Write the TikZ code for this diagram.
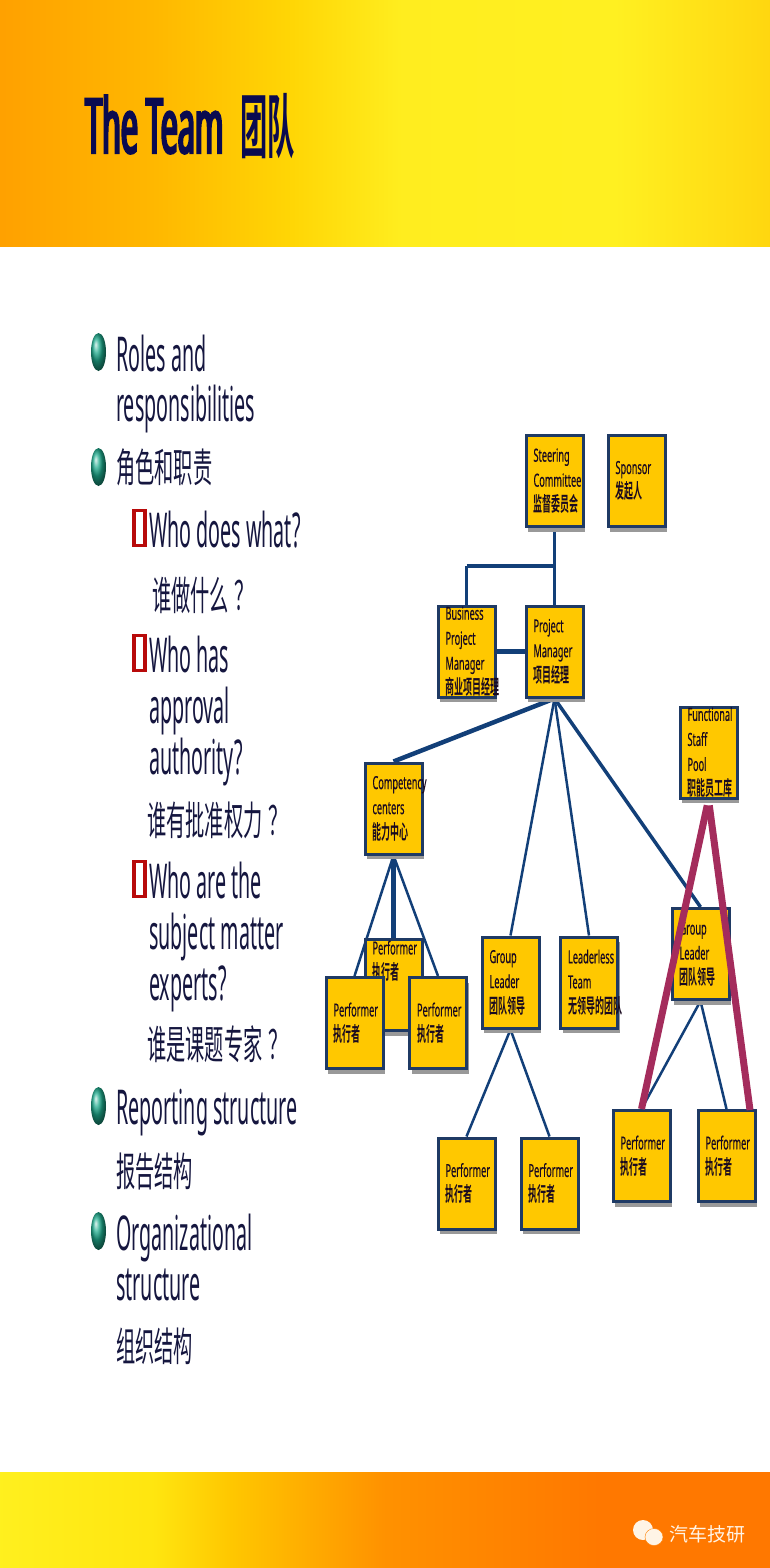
\documentclass[tikz,border=0pt]{standalone}
\usepackage{fontspec}
\usetikzlibrary{shapes.geometric,shadows,backgrounds}
\setmainfont{Noto Sans}
\newfontfamily\bodylatin[FakeStretch=.41]{Noto Sans}
\newfontfamily\bodycjk[FakeStretch=.48]{Noto Sans CJK SC}
\newfontfamily\boxlatin[FakeStretch=.51,FakeBold=.3]{Noto Sans}
\newfontfamily\boxcjk[FakeStretch=.45]{Noto Sans CJK SC Bold}
\newfontfamily\titlefont[FakeStretch=.4,FakeBold=3]{Noto Sans}
\newfontfamily\titlecjk[FakeStretch=.39]{Noto Sans CJK SC Bold}
\newfontfamily\markfont{Noto Sans CJK SC}
\newcommand{\zh}[1]{{\boxcjk\fontsize{20}{25}\selectfont #1}}
\definecolor{boxfill}{HTML}{FFC800}
\definecolor{boxline}{HTML}{1F3A64}
\definecolor{linkblue}{HTML}{123F78}
\definecolor{poolred}{HTML}{A42C5C}
\definecolor{inktext}{HTML}{15163F}
\definecolor{titleink}{HTML}{0A0A50}
\definecolor{boxtext}{HTML}{1A0A20}
\definecolor{cream}{HTML}{FFF4E6}
\definecolor{ballgreen}{HTML}{1EAA8C}
\definecolor{squarered}{HTML}{B80A0A}
\pgfdeclarehorizontalshading{headerfade}{100bp}{
  rgb(0bp)=(1,.63,0);rgb(25bp)=(1,.63,0);rgb(35bp)=(1,.72,0);rgb(44bp)=(1,.84,.02);rgb(51bp)=(1,.93,.12);
  rgb(65bp)=(1,.94,.13);rgb(75bp)=(1,.84,.06);rgb(100bp)=(1,.84,.06)}
\pgfdeclarehorizontalshading{footerfade}{100bp}{
  rgb(0bp)=(1,.94,.12);rgb(25bp)=(1,.94,.12);rgb(35bp)=(1,.9,.06);rgb(40bp)=(1,.78,0);rgb(50bp)=(1,.57,0);
  rgb(64bp)=(1,.47,0);rgb(100bp)=(1,.47,0)}
\tikzset{
  x=1pt, y=-1pt,
  box/.style={rectangle, draw=boxline, line width=3pt, fill=boxfill,
    minimum width=57pt, minimum height=91pt, inner sep=0pt, text width=42pt, align=left,
    text=boxtext, font=\boxlatin\fontsize{18}{25}\selectfont,
    drop shadow={shadow xshift=2pt, shadow yshift=-5pt, fill=gray!80, opacity=1}},
  bodyline/.style={anchor=base west, inner sep=0pt, text=inktext, font=\bodylatin\fontsize{48}{50}\selectfont},
  cjkline/.style={anchor=base west, inner sep=0pt, text=inktext, font=\bodycjk\fontsize{40}{50}\selectfont},
  ballmark/.style={ellipse, ball color=ballgreen, minimum width=15pt, minimum height=38pt, inner sep=0pt},
  squaremark/.style={rectangle, draw=squarered, line width=3.5pt, fill=white, minimum width=11pt, minimum height=35pt, inner sep=0pt},
  thinlink/.style={draw=linkblue, line width=2.5pt},
  thicklink/.style={draw=linkblue, line width=4.5pt},
  poollink/.style={draw=poolred, line width=7pt, shorten <=6pt},
}
\begin{document}
\begin{tikzpicture}
  \useasboundingbox (0,0) rectangle (770,1568);
  % bands
  \shade[shading=headerfade] (0,0) rectangle (770,246);
  \shade[shading=footerfade] (0,1472) rectangle (770,1568);

  \node (title) [anchor=base west, inner sep=0pt, text=titleink, font=\titlefont\fontsize{76}{76}\selectfont] at (85,153) {The Team\kern17pt{\titlecjk\fontsize{70}{70}\selectfont 团队}};

  % bullet list
  \foreach \name/\y in {ballA/352, ballB/467, ballC/1106, ballD/1231}
    \node (\name) [ballmark] at (98.5,\y) {};
  \foreach \name/\y in {squareA/528, squareB/653, squareC/879}
    \node (\name) [squaremark] at (139.5,\y) {};
  \foreach \x/\y/\txt in {116/371/Roles and, 116/421/responsibilities, 149/547/Who does what?,
      149/672/Who has, 149/723/approval, 149/774/authority?, 149/898/Who are the,
      149/949/subject matter, 149/1000/experts?, 116/1124/Reporting structure,
      116/1250/Organizational, 116/1300/structure}
    \node [bodyline] at (\x,\y) {\txt};
  \foreach \x/\y/\txt in {116/482/角色和职责, 152/610/谁做什么\kern6pt？, 147/835/谁有批准权力\kern6pt？,
      147/1059/谁是课题专家\kern6pt？, 116/1186/报告结构, 116/1361/组织结构}
    \node [cjkline] at (\x,\y) {\txt};

  % boxes
  \node (steering) [box] at (554.5,481) {Steering\\Committee\\\zh{监督委员会}};
  \node (sponsor) [box, right of=steering, node distance=82pt] {Sponsor\\\zh{发起人}};
  \node (project) [box, below of=steering, node distance=170.5pt] {Project\\Manager\\\zh{项目经理}};
  \node (business) [box, left of=project, node distance=88pt] {Business\\Project\\Manager\\\zh{商业项目经理}};
  \node (functional) [box] at (708.5,752.5) {Functional\\Staff\\Pool\\\zh{职能员工库}};
  \node (competency) [box] at (393.5,808.5) {Competency\\centers\\\zh{能力中心}};
  \node (perfMid) [box] at (393.5,985) {Performer\\\zh{执行者}\\~\\~};
  \node (perfLeft) [box] at (354.5,1023) {Performer\\\zh{执行者}};
  \node (perfRight) [box, right of=perfLeft, node distance=83.5pt] {Performer\\\zh{执行者}};
  \node (groupA) [box] at (510.5,982.5) {Group\\Leader\\\zh{团队领导}};
  \node (leaderless) [box, right of=groupA, node distance=78.5pt] {Leaderless\\Team\\\zh{无领导的团队}};
  \node (groupB) [box] at (700.5,954) {Group\\Leader\\\zh{团队领导}};
  \node (perfC) [box] at (466.5,1183.5) {Performer\\\zh{执行者}};
  \node (perfD) [box, right of=perfC, node distance=83pt] {Performer\\\zh{执行者}};
  \node (perfE) [box] at (641.5,1156) {Performer\\\zh{执行者}};
  \node (perfF) [box, right of=perfE, node distance=85pt] {Performer\\\zh{执行者}};

  \coordinate (junction) at (554.5,566);
  \coordinate (poolEnd) at (750,1110);

  % links
  \begin{scope}[on background layer]
    \draw [thinlink] (steering) -- (project);
    \draw [thinlink] (business.north) -- (business.north |- junction);
    \draw [thicklink] (business.north |- junction) -- (junction);
    \draw [thicklink] (business) -- (project);
    \draw [thicklink] (project.south) -- (competency.north);
    \draw [thinlink] (project.south) -- (groupA.north);
    \draw [thinlink] (project.south) -- (leaderless.north);
    \draw [draw=linkblue, line width=3.5pt] (project.south) -- (groupB.north);
    \draw [thicklink] (competency.south) -- (perfMid.north);
    \draw [thinlink] (competency.south) -- (perfLeft.north);
    \draw [thinlink] (competency.south) -- (perfRight.north);
    \draw [thinlink] (groupA.south) -- (perfC.north);
    \draw [thinlink] (groupA.south) -- (perfD.north);
    \draw [thinlink] (groupB.south) -- (perfE.north);
    \draw [thinlink] (groupB.south) -- (perfF.north);
  \end{scope}
  \draw [poollink] (functional.south) -- (perfE.north);
  \draw [poollink] (functional.south) -- (poolEnd);

  % footer mark
  \node (bubbleA) [ellipse, fill=cream, minimum width=20pt, minimum height=20pt, inner sep=0pt] at (643,1530) {};
  \node (bubbleB) [ellipse, fill=cream, draw=orange, minimum width=18pt, minimum height=17pt, inner sep=0pt] at (654,1537) {};
  \node (mark) [anchor=west, inner sep=0pt, text=cream, font=\markfont\fontsize{19}{19}\selectfont] at (669,1534) {汽车技研};
\end{tikzpicture}
\end{document}
